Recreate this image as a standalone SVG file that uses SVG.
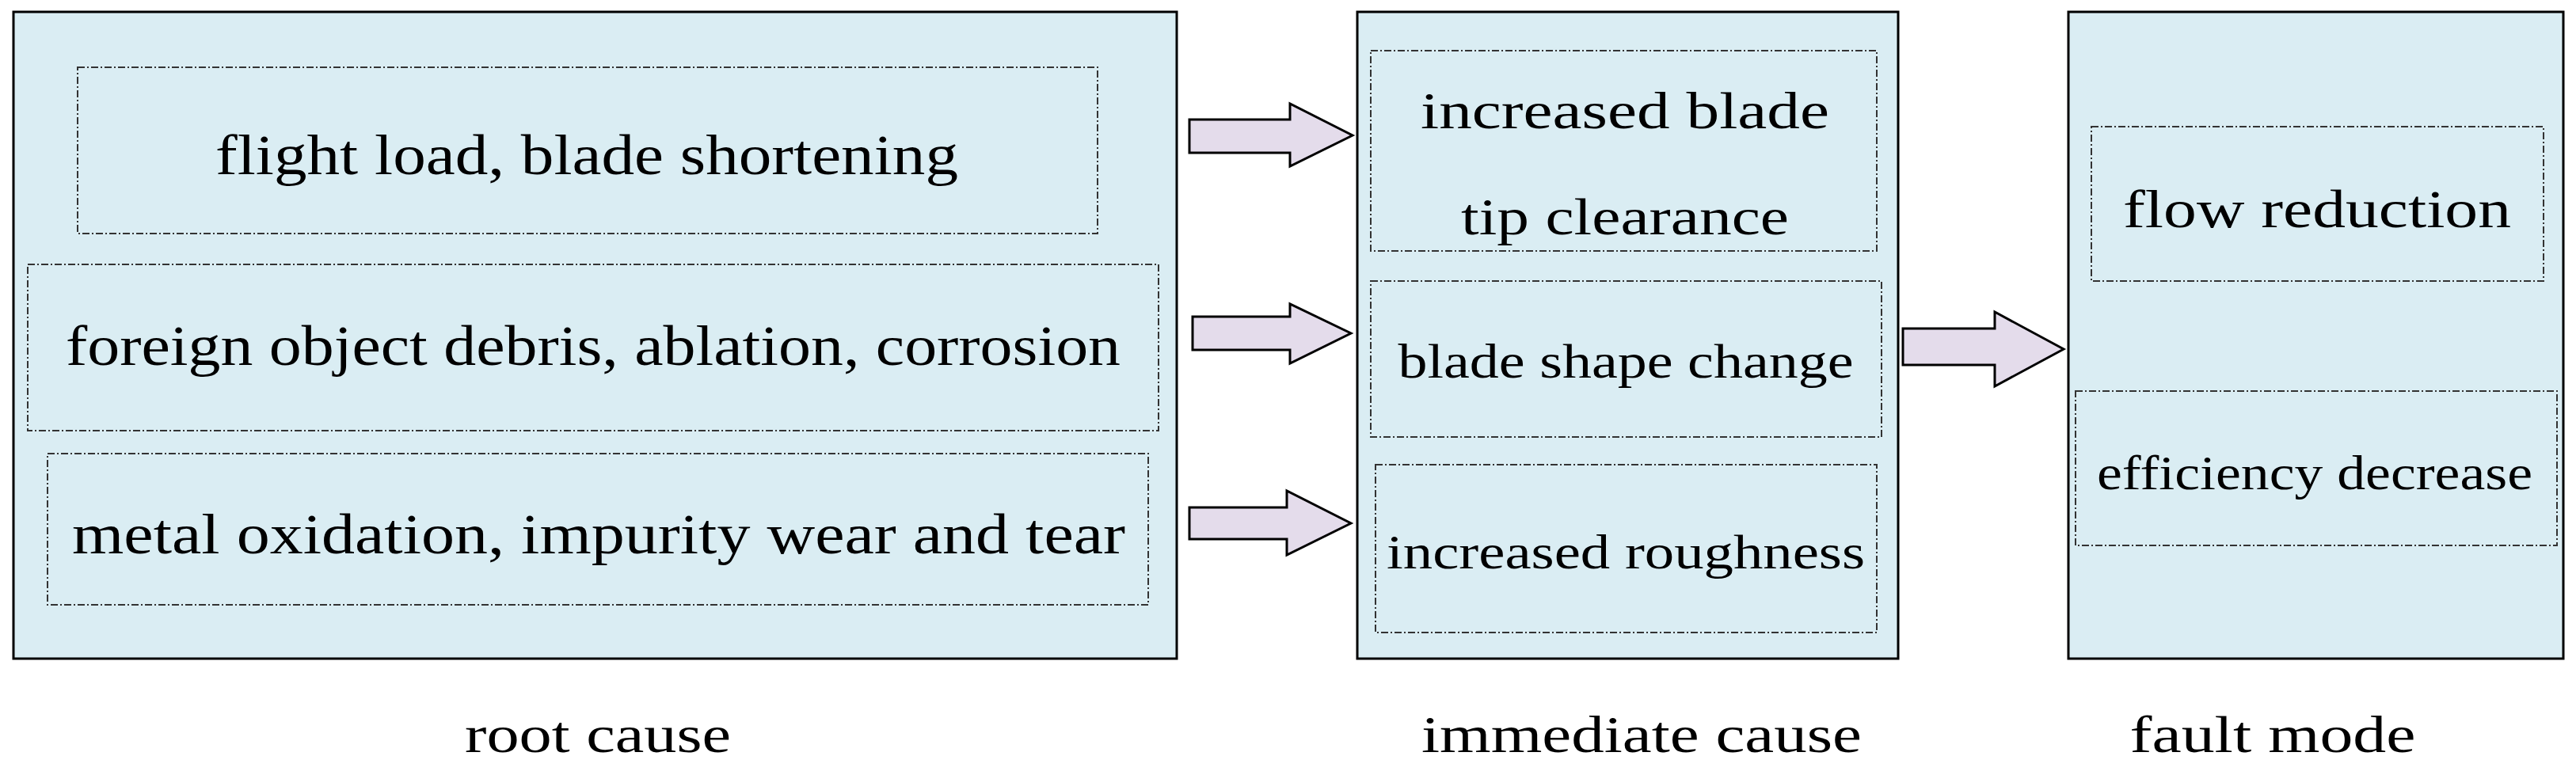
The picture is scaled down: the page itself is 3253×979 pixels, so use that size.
<svg xmlns="http://www.w3.org/2000/svg" width="3253" height="979" viewBox="0 0 3253 979">
<style>
.big{fill:#daedf3;stroke:#000;stroke-width:3}
.sub{fill:none;stroke:#333;stroke-width:2;stroke-dasharray:9 3 2 3}
.t{font-family:"Liberation Serif",serif;fill:#000;text-anchor:middle}
.arr{fill:#e4dceb;stroke:#000;stroke-width:3;stroke-linejoin:miter}
</style>
<rect width="3253" height="979" fill="#fff"/>
<g id="root">
<rect class="big" x="17" y="15" width="1469" height="817"/>
<g id="r1"><rect class="sub" x="98" y="85" width="1288" height="210"/><text class="t" x="741" y="220" font-size="72" textLength="938" lengthAdjust="spacingAndGlyphs">flight load, blade shortening</text></g>
<g id="r2"><rect class="sub" x="35" y="334" width="1428" height="210"/><text class="t" x="749" y="461" font-size="72" textLength="1332" lengthAdjust="spacingAndGlyphs">foreign object debris, ablation, corrosion</text></g>
<g id="r3"><rect class="sub" x="60" y="573" width="1390" height="191"/><text class="t" x="756" y="699" font-size="72" textLength="1330" lengthAdjust="spacingAndGlyphs">metal oxidation, impurity wear and tear</text></g>
</g>
<g id="immediate">
<rect class="big" x="1714" y="15" width="683" height="817"/>
<g id="i1"><rect class="sub" x="1731" y="64" width="639" height="253"/><text class="t" x="2052" y="162" font-size="66" textLength="516" lengthAdjust="spacingAndGlyphs">increased blade</text><text class="t" x="2052" y="296" font-size="66" textLength="414" lengthAdjust="spacingAndGlyphs">tip clearance</text></g>
<g id="i2"><rect class="sub" x="1731" y="355" width="645" height="197"/><text class="t" x="2053" y="477" font-size="62" textLength="575" lengthAdjust="spacingAndGlyphs">blade shape change</text></g>
<g id="i3"><rect class="sub" x="1737" y="587" width="633" height="212"/><text class="t" x="2053" y="718" font-size="62" textLength="604" lengthAdjust="spacingAndGlyphs">increased roughness</text></g>
</g>
<g id="fault">
<rect class="big" x="2612" y="15" width="625" height="817"/>
<g id="f1"><rect class="sub" x="2641" y="160" width="571" height="195"/><text class="t" x="2926" y="287" font-size="68" textLength="490" lengthAdjust="spacingAndGlyphs">flow reduction</text></g>
<g id="f2"><rect class="sub" x="2621" y="494" width="608" height="195"/><text class="t" x="2923" y="618" font-size="62" textLength="550" lengthAdjust="spacingAndGlyphs">efficiency decrease</text></g>
</g>
<g id="connectors">
<polygon class="arr" points="1502,151 1629,151 1629,131 1708,171 1629,210 1629,193 1502,193"/>
<polygon class="arr" points="1506,400 1629,400 1629,384 1706,421 1629,459 1629,442 1506,442"/>
<polygon class="arr" points="1502,641 1625,641 1625,620 1706,661 1625,701 1625,681 1502,681"/>
<polygon class="arr" points="2403,415 2519,415 2519,394 2606,441 2519,488 2519,461 2403,461"/>
</g>
<g id="labels">
<text class="t" x="755" y="950" font-size="66" textLength="336" lengthAdjust="spacingAndGlyphs">root cause</text>
<text class="t" x="2073" y="950" font-size="66" textLength="556" lengthAdjust="spacingAndGlyphs">immediate cause</text>
<text class="t" x="2870" y="950" font-size="66" textLength="361" lengthAdjust="spacingAndGlyphs">fault mode</text>
</g>
</svg>
